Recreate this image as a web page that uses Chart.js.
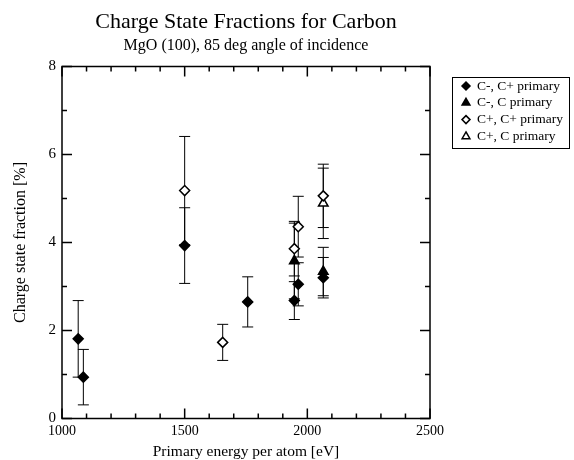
<!DOCTYPE html>
<html>
<head>
<meta charset="utf-8">
<script src="https://cdn.jsdelivr.net/npm/chart.js@4.4.1/dist/chart.umd.min.js"></script>
<style>
html, body { margin: 0; padding: 0; background: #fff; }
</style>
</head>
<body>
<canvas id="c" width="574" height="460"></canvas>
<script>
// values (energy in eV, fraction and error in %)
const energyCmCp = [1066, 1087, 1500, 1757, 1947, 1963, 2065];
const fracCmCp   = [1.81, 0.94, 3.93, 2.65, 2.68, 3.05, 3.20];
const errCmCp    = [0.87, 0.63, 0.86, 0.57, 0.43, 0.49, 0.46];

const energyCmC = [1947, 2065];
const fracCmC   = [3.58, 3.34];
const errCmC    = [0.86, 0.55];

const energyCpCp = [1500, 1655, 1947, 1963, 2065];
const fracCpCp   = [5.18, 1.73, 3.86, 4.36, 5.06];
const errCpCp    = [1.23, 0.41, 0.62, 0.69, 0.72];

const energyCpC = [2065];
const fracCpC   = [4.89];
const errCpC    = [0.80];

const seriesNames = ["C-, C+ primary", "C-, C primary", "C+, C+ primary", "C+, C primary"];
const xTickLabels = [1000, 1500, 2000, 2500];
const yTickLabels = [0, 2, 4, 6, 8];

const titleText = "Charge State Fractions for Carbon";
const subtitleText = "MgO (100), 85 deg angle of incidence";

var FONT = "'Liberation Serif', 'Times New Roman', serif";

function points(xs, ys, es) {
    return xs.map(function (x, i) { return { x: x, y: ys[i], err: es[i] }; });
}

function series(name, data, style, filled) {
    return {
        label: name,
        data: data,
        showLine: false,
        pointStyle: style,
        pointRadius: style == "triangle" ? 5.5 : 5,
        pointHoverRadius: 5,
        pointBorderWidth: 1.5,
        pointBorderColor: "#000",
        pointBackgroundColor: filled ? "#000" : "#fff"
    };
}

// error bars, frame, inward ticks, titles and boxed legend
var decorations = {
    id: "decorations",
    beforeDatasetsDraw: function (chart) {
        var ctx = chart.ctx, xs = chart.scales.x, ys = chart.scales.y;
        ctx.save();
        ctx.strokeStyle = "#000";
        ctx.lineWidth = 1;
        chart.data.datasets.forEach(function (ds) {
            ds.data.forEach(function (p) {
                var px = xs.getPixelForValue(p.x);
                var top = ys.getPixelForValue(p.y + p.err);
                var bot = ys.getPixelForValue(p.y - p.err);
                ctx.beginPath();
                ctx.moveTo(px, top); ctx.lineTo(px, bot);
                ctx.moveTo(px - 5.5, top); ctx.lineTo(px + 5.5, top);
                ctx.moveTo(px - 5.5, bot); ctx.lineTo(px + 5.5, bot);
                ctx.stroke();
            });
        });
        ctx.restore();
    },
    afterDraw: function (chart) {
        var ctx = chart.ctx, a = chart.chartArea, xs = chart.scales.x, ys = chart.scales.y;
        ctx.save();
        ctx.strokeStyle = "#000";
        ctx.lineWidth = 1.5;
        ctx.strokeRect(a.left, a.top, a.right - a.left, a.bottom - a.top);

        ctx.beginPath();
        xs.ticks.forEach(function (t) {
            var px = xs.getPixelForValue(t.value);
            var len = t.value % 500 == 0 ? 10 : 5;
            ctx.moveTo(px, a.bottom); ctx.lineTo(px, a.bottom - len);
            ctx.moveTo(px, a.top); ctx.lineTo(px, a.top + len);
        });
        ys.ticks.forEach(function (t) {
            var py = ys.getPixelForValue(t.value);
            var len = t.value % 2 == 0 ? 10 : 5;
            ctx.moveTo(a.left, py); ctx.lineTo(a.left + len, py);
            ctx.moveTo(a.right, py); ctx.lineTo(a.right - len, py);
        });
        ctx.stroke();

        // titles
        var cx = (a.left + a.right) / 2;
        ctx.fillStyle = "#000";
        ctx.textAlign = "center";
        ctx.textBaseline = "middle";
        ctx.font = "22px " + FONT;
        ctx.fillText(titleText, cx, 22);
        ctx.font = "16px " + FONT;
        ctx.fillText(subtitleText, cx, 46);

        // legend
        var lx = 452, ly = 77, lw = 117, lh = 71;
        ctx.lineWidth = 1;
        ctx.strokeRect(lx + 0.5, ly + 0.5, lw, lh);
        ctx.textAlign = "left";
        ctx.font = "13.5px " + FONT;
        chart.data.datasets.forEach(function (ds, i) {
            var rowY = 86 + i * 16.8;
            ctx.fillStyle = ds.pointBackgroundColor;
            ctx.strokeStyle = "#000";
            ctx.lineWidth = 1.5;
            Chart.helpers.drawPoint(ctx, {
                pointStyle: ds.pointStyle,
                radius: ds.pointStyle == "triangle" ? 4.5 : 4,
                rotation: 0,
                borderWidth: 1.5
            }, 466, rowY);
            ctx.fillStyle = "#000";
            ctx.fillText(ds.label, 477, rowY);
        });
        ctx.restore();
    }
};

new Chart(document.getElementById("c"), {
    type: "scatter",
    data: {
        datasets: [
            series(seriesNames[0], points(energyCmCp, fracCmCp, errCmCp), "rectRot", true),
            series(seriesNames[1], points(energyCmC, fracCmC, errCmC), "triangle", true),
            series(seriesNames[2], points(energyCpCp, fracCpCp, errCpCp), "rectRot", false),
            series(seriesNames[3], points(energyCpC, fracCpC, errCpC), "triangle", false)
        ]
    },
    options: {
        responsive: false,
        animation: false,
        events: [],
        layout: { padding: { top: 66.5, right: 144, left: 0, bottom: 0 } },
        plugins: {
            legend: { display: false },
            title: { display: false },
            tooltip: { enabled: false }
        },
        scales: {
            x: {
                type: "linear",
                min: 1000,
                max: 2500,
                grid: { display: false, drawTicks: false },
                border: { display: false },
                ticks: {
                    stepSize: 100,
                    autoSkip: false,
                    maxRotation: 0,
                    padding: 4,
                    color: "#000",
                    font: { family: FONT, size: 14 },
                    callback: function (v) { return xTickLabels.indexOf(v) >= 0 ? String(v) : ""; }
                },
                title: {
                    display: true,
                    text: "Primary energy per atom [eV]",
                    color: "#000",
                    font: { family: FONT, size: 15.5 },
                    padding: { top: 0, bottom: -1 }
                },
                afterFit: function (s) { s.height = 41.5; }
            },
            y: {
                type: "linear",
                min: 0,
                max: 8,
                grid: { display: false, drawTicks: false },
                border: { display: false },
                ticks: {
                    stepSize: 1,
                    autoSkip: false,
                    padding: 6,
                    color: "#000",
                    font: { family: FONT, size: 15 },
                    callback: function (v) { return yTickLabels.indexOf(v) >= 0 ? String(v) : ""; }
                },
                title: {
                    display: true,
                    text: "Charge state fraction [%]",
                    color: "#000",
                    font: { family: FONT, size: 16 },
                    padding: { top: 11, bottom: 0 }
                },
                afterFit: function (s) { s.width = 62; }
            }
        }
    },
    plugins: [decorations]
});
</script>
</body>
</html>
